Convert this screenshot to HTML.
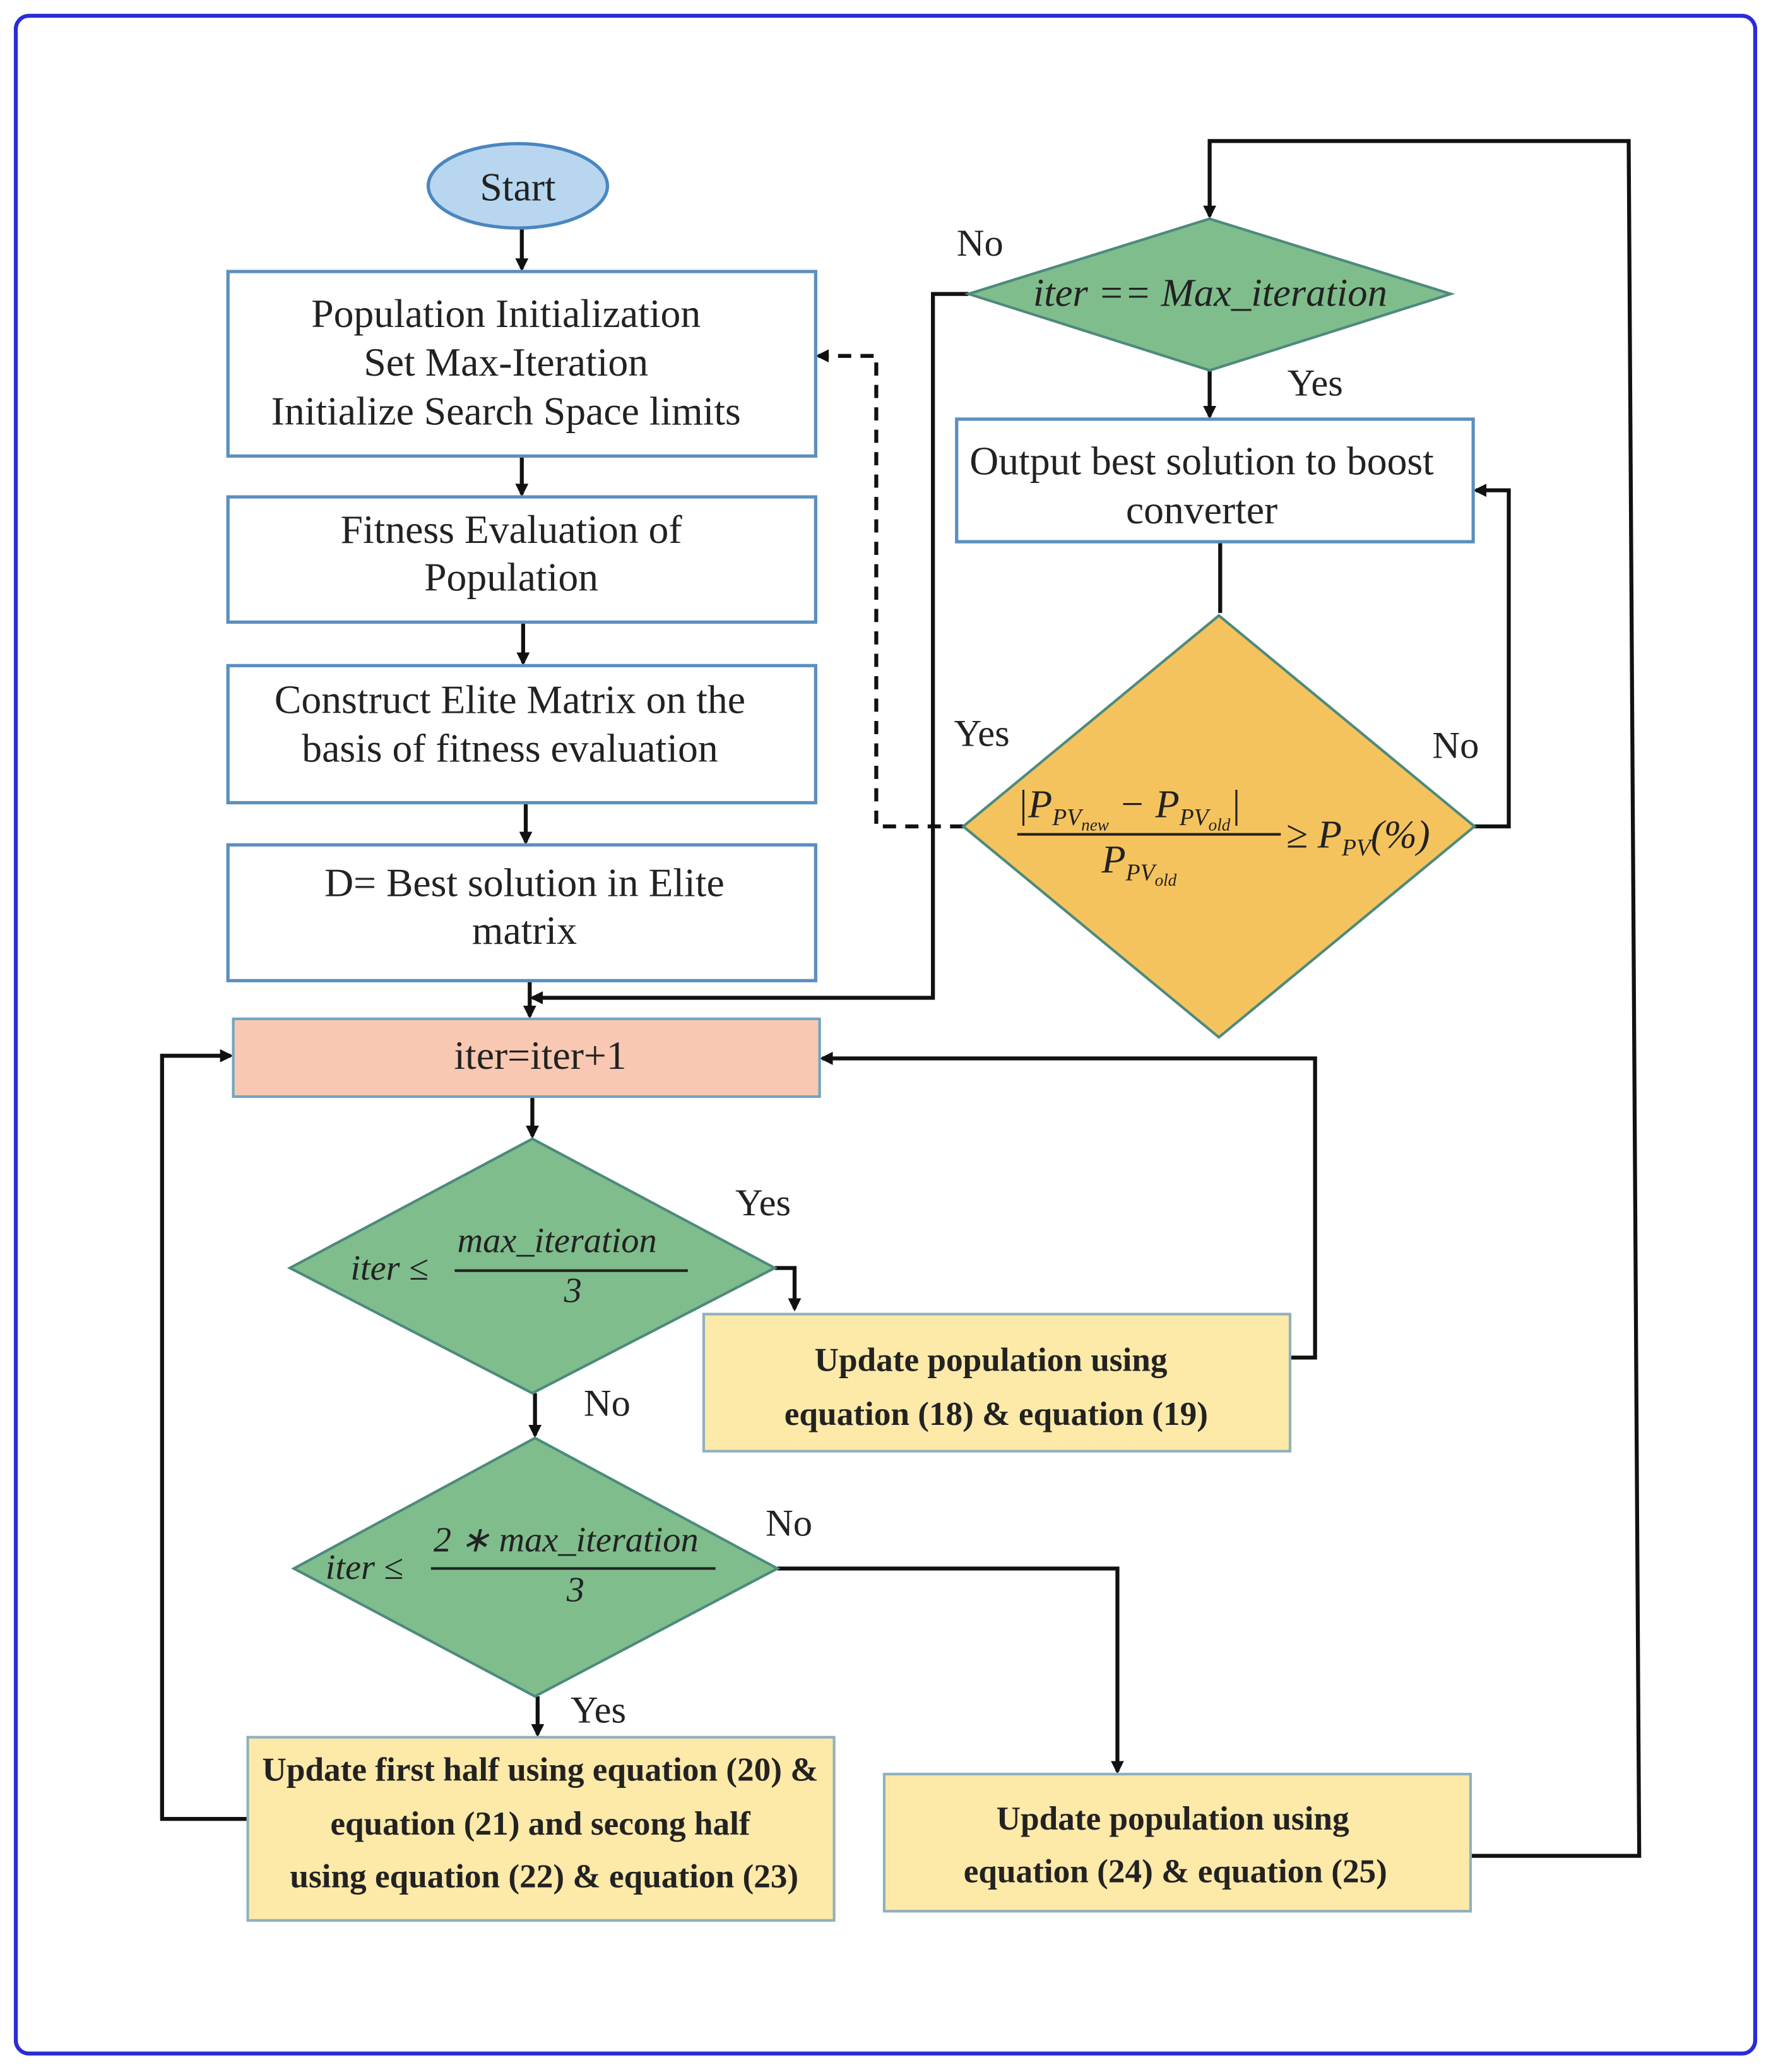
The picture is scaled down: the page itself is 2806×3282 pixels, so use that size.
<!DOCTYPE html>
<html><head><meta charset="utf-8"><style>
html,body{margin:0;padding:0;background:#fff;}
svg{display:block;}
text{font-family:"Liberation Serif",serif;fill:#222;}
.t{font-size:30.5px;text-anchor:middle;}
.b{font-size:25.5px;font-weight:bold;text-anchor:middle;}
.m{font-size:27px;font-style:italic;}
.l{font-size:29px;}
</style></head><body>
<svg width="2806" height="3282" viewBox="0 0 1344 1572" xmlns="http://www.w3.org/2000/svg">
<defs><marker id="a" markerWidth="10" markerHeight="10" refX="8" refY="5" orient="auto" markerUnits="userSpaceOnUse"><path d="M0,0 L10,5 L0,10 z" fill="#111"/></marker></defs>
<rect x="12" y="12" width="1320" height="1546" rx="10" fill="#fff" stroke="#2b2bd8" stroke-width="3"/>
<g stroke="#111" stroke-width="3" fill="none">
<line x1="396" y1="173" x2="396" y2="204" marker-end="url(#a)"/>
<line x1="396" y1="346" x2="396" y2="375" marker-end="url(#a)"/>
<line x1="397" y1="472" x2="397" y2="503" marker-end="url(#a)"/>
<line x1="399" y1="609" x2="399" y2="639" marker-end="url(#a)"/>
<line x1="402" y1="744" x2="402" y2="771" marker-end="url(#a)"/>
<polyline points="735,223 708,223 708,757 404,757" marker-end="url(#a)"/>
<line x1="918" y1="281" x2="918" y2="316" marker-end="url(#a)"/>
<line x1="926" y1="411" x2="926" y2="465"/>
<polyline points="1119,627 1145,627 1145,372 1120,372" marker-end="url(#a)"/>
<polyline points="731,627 665,627 665,270 621,270" stroke-dasharray="10,7" marker-end="url(#a)"/>
<line x1="404" y1="832" x2="404" y2="862" marker-end="url(#a)"/>
<polyline points="588,962 603,962 603,993" marker-end="url(#a)"/>
<polyline points="979,1030 998,1030 998,803 624,803" marker-end="url(#a)"/>
<line x1="406" y1="1057" x2="406" y2="1089" marker-end="url(#a)"/>
<polyline points="590,1190 848,1190 848,1344" marker-end="url(#a)"/>
<line x1="408" y1="1287" x2="408" y2="1316" marker-end="url(#a)"/>
<polyline points="188,1380 123,1380 123,801 175,801" marker-end="url(#a)"/>
<polyline points="1116,1408 1244,1408 1236,107 918,107 918,164" marker-end="url(#a)"/>
</g>
<ellipse cx="393" cy="141" rx="68" ry="32" fill="#b8d6ef" stroke="#4a86c0" stroke-width="2.5"/>
<text class="t" x="393" y="152">Start</text>
<g fill="#fff" stroke="#5b8fbf" stroke-width="2.5">
<rect x="173" y="206" width="446" height="140"/>
<rect x="173" y="377" width="446" height="95"/>
<rect x="173" y="505" width="446" height="104"/>
<rect x="173" y="641" width="446" height="103"/>
<rect x="726" y="318" width="392" height="93"/>
</g>
<rect x="177" y="773" width="445" height="59" fill="#f8c8b2" stroke="#6fa6c0" stroke-width="2"/>
<g fill="#fde9a8" stroke="#8fb0bf" stroke-width="2">
<rect x="534" y="997" width="445" height="104"/>
<rect x="188" y="1318" width="445" height="139"/>
<rect x="671" y="1346" width="445" height="104"/>
</g>
<g fill="#80bd8c" stroke="#4d8a7c" stroke-width="2">
<polygon points="918,166 1101,223 918,281 735,223"/>
<polygon points="404,864 588,962 404,1057 220,962"/>
<polygon points="406,1091 590,1190 406,1287 223,1190"/>
</g>
<polygon points="925,467 1119,627 925,787 731,627" fill="#f5c35e" stroke="#4d8a7c" stroke-width="2"/>
<text class="t" x="384" y="248">Population Initialization</text>
<text class="t" x="384" y="285">Set Max-Iteration</text>
<text class="t" x="384" y="322">Initialize Search Space limits</text>
<text class="t" x="388" y="412">Fitness Evaluation of</text>
<text class="t" x="388" y="448">Population</text>
<text class="t" x="387" y="541">Construct Elite Matrix on the</text>
<text class="t" x="387" y="578">basis of fitness evaluation</text>
<text class="t" x="398" y="680">D= Best solution in Elite</text>
<text class="t" x="398" y="716">matrix</text>
<text class="t" x="912" y="360">Output best solution to boost</text>
<text class="t" x="912" y="397">converter</text>
<text class="t" x="410" y="811">iter=iter+1</text>
<text class="b" x="752" y="1040">Update population using</text>
<text class="b" x="756" y="1081">equation (18) &amp; equation (19)</text>
<text class="b" x="410" y="1351">Update first half using equation (20) &amp;</text>
<text class="b" x="410" y="1392">equation (21) and secong half</text>
<text class="b" x="413" y="1432">using equation (22) &amp; equation (23)</text>
<text class="b" x="890" y="1388">Update population using</text>
<text class="b" x="892" y="1428">equation (24) &amp; equation (25)</text>
<text class="m" x="784" y="232" style="font-size:30px">iter == Max_iteration</text>
<text class="m" x="266" y="971">iter ≤</text>
<text class="m" x="347" y="950">max_iteration</text>
<line x1="345" y1="964" x2="522" y2="964" stroke="#222" stroke-width="2"/>
<text class="m" x="428" y="988">3</text>
<text class="m" x="247" y="1198">iter ≤</text>
<text class="m" x="329" y="1177">2 ∗ max_iteration</text>
<line x1="327" y1="1190" x2="543" y2="1190" stroke="#222" stroke-width="2"/>
<text class="m" x="430" y="1215">3</text>
<text class="m" x="772" y="620" style="font-size:30px">|P<tspan font-size="18" dy="6">PV</tspan><tspan font-size="13" dy="4">new</tspan><tspan dy="-10"> − P</tspan><tspan font-size="18" dy="6">PV</tspan><tspan font-size="13" dy="4">old</tspan><tspan dy="-10">|</tspan></text>
<line x1="772" y1="633" x2="972" y2="633" stroke="#222" stroke-width="2"/>
<text class="m" x="836" y="662" style="font-size:30px">P<tspan font-size="18" dy="6">PV</tspan><tspan font-size="13" dy="4">old</tspan></text>
<text class="m" x="976" y="643" style="font-size:30px">≥ P<tspan font-size="18" dy="6">PV</tspan><tspan dy="-6">(%)</tspan></text>
<text class="l" x="726" y="194">No</text>
<text class="l" x="977" y="300">Yes</text>
<text class="l" x="1087" y="575">No</text>
<text class="l" x="724" y="566">Yes</text>
<text class="l" x="558" y="922">Yes</text>
<text class="l" x="443" y="1074">No</text>
<text class="l" x="581" y="1165">No</text>
<text class="l" x="433" y="1307">Yes</text>
</svg>
</body></html>
